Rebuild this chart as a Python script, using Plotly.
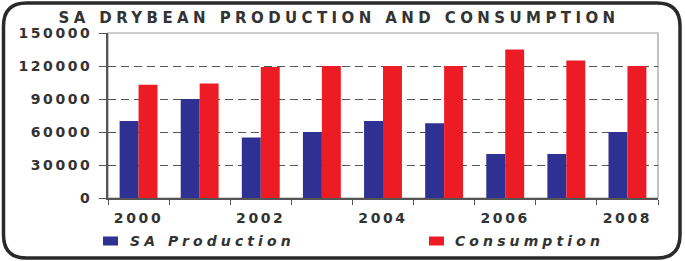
import plotly.graph_objects as go

years = ["2000", "2001", "2002", "2003", "2004", "2005", "2006", "2007", "2008"]
sa_production = [70000, 90000, 55000, 60000, 70000, 68000, 40000, 40000, 60000]
consumption = [103000, 104000, 119000, 120000, 120000, 120000, 135000, 125000, 120000]
series_names = ["SA Production", "Consumption"]
title_text = "SA DRYBEAN PRODUCTION AND CONSUMPTION"
y_ticks = [0, 30000, 60000, 90000, 120000, 150000]
x_tick_labels = ["2000", "", "2002", "", "2004", "", "2006", "", "2008"]

BLUE = "#2E3192"
RED = "#ED1C24"
TXT = "#333333"
FONT = "DejaVu Sans"

W, H = 685, 261
L, R, T, B = 108, 658, 33, 198  # plot area in pixels


def sp(s, ls):
    return f'<span style="letter-spacing:{ls}px">{s}</span>'


def px(x):
    return (x - L) / (R - L)


def py(y):
    return (B - y) / (B - T)


fig = go.Figure()
fig.add_trace(go.Bar(x=years, y=sa_production, name=series_names[0],
                     marker=dict(color=BLUE, line=dict(width=0)), showlegend=False))
fig.add_trace(go.Bar(x=years, y=consumption, name=series_names[1],
                     marker=dict(color=RED, line=dict(width=0)), showlegend=False))

shapes = []
# plot frame (gray top/right)
shapes.append(dict(type="rect", xref="paper", yref="paper", x0=0, x1=1, y0=0, y1=1,
                   line=dict(color="#a09a9a", width=1.2), layer="below"))
# outer rounded border
x0, x1, y0, y1, r = 3.5, 680, 3, 258, 23
path = (f"M {px(x0+r)},{py(y0)} L {px(x1-r)},{py(y0)} Q {px(x1)},{py(y0)} {px(x1)},{py(y0+r)} "
        f"L {px(x1)},{py(y1-r)} Q {px(x1)},{py(y1)} {px(x1-r)},{py(y1)} "
        f"L {px(x0+r)},{py(y1)} Q {px(x0)},{py(y1)} {px(x0)},{py(y1-r)} "
        f"L {px(x0)},{py(y0+r)} Q {px(x0)},{py(y0)} {px(x0+r)},{py(y0)} Z")
shapes.append(dict(type="path", xref="paper", yref="paper", path=path,
                   line=dict(color="#2a2a2a", width=3.5)))

# legend (manual)
leg = [(103, 118, 128, BLUE, series_names[0]), (429, 444, 453, RED, series_names[1])]
annotations = []
for sx0, sx1, tx, col, name in leg:
    shapes.append(dict(type="rect", xref="paper", yref="paper",
                       x0=px(sx0), x1=px(sx1), y0=py(245.5), y1=py(236.5),
                       fillcolor=col, line=dict(width=0)))
    annotations.append(dict(xref="paper", yref="paper", x=px(tx), y=py(241),
                            xanchor="left", yanchor="middle", showarrow=False,
                            text=f"<b><i>{sp(name, 4.1)}</i></b>",
                            font=dict(family=FONT, size=14, color=TXT)))

fig.update_layout(
    width=W, height=H,
    margin=dict(l=L, r=W - R, t=T, b=H - B, pad=0),
    paper_bgcolor="white", plot_bgcolor="white",
    barmode="group", bargap=0.38, bargroupgap=0,
    title=dict(text=f"<b>{sp(title_text, 4.4)}</b>", x=(62 + 616) / 2 / W, xanchor="center",
               xref="container", yref="container",
               y=1 - 17.5 / H, yanchor="middle",
               font=dict(family=FONT, size=15, color=TXT)),
    xaxis=dict(type="category", tickmode="array", tickvals=years,
               ticktext=[f"<b>{sp(t, 2.6)}</b>" if t else "" for t in x_tick_labels],
               tickson="boundaries", ticks="outside", ticklen=5, tickcolor="#555",
               showline=True, linecolor="#555", linewidth=1.5,
               showgrid=False, ticklabelstandoff=6,
               tickfont=dict(family=FONT, size=14, color=TXT)),
    yaxis=dict(range=[0, 150000], tickmode="array", tickvals=y_ticks,
               ticktext=[f"<b>{sp(str(v), 2.6)}</b>" for v in y_ticks],
               ticks="outside", ticklen=7, tickcolor="#555",
               showline=True, linecolor="#555", linewidth=1.5,
               showgrid=True, gridcolor="#555", gridwidth=1, griddash="8px,5px",
               zeroline=False, ticklabelstandoff=4,
               tickfont=dict(family=FONT, size=14, color=TXT)),
    shapes=shapes, annotations=annotations,
)

fig.write_html("out.html", config={"displayModeBar": False},
               post_script="document.body.style.margin='0';")
